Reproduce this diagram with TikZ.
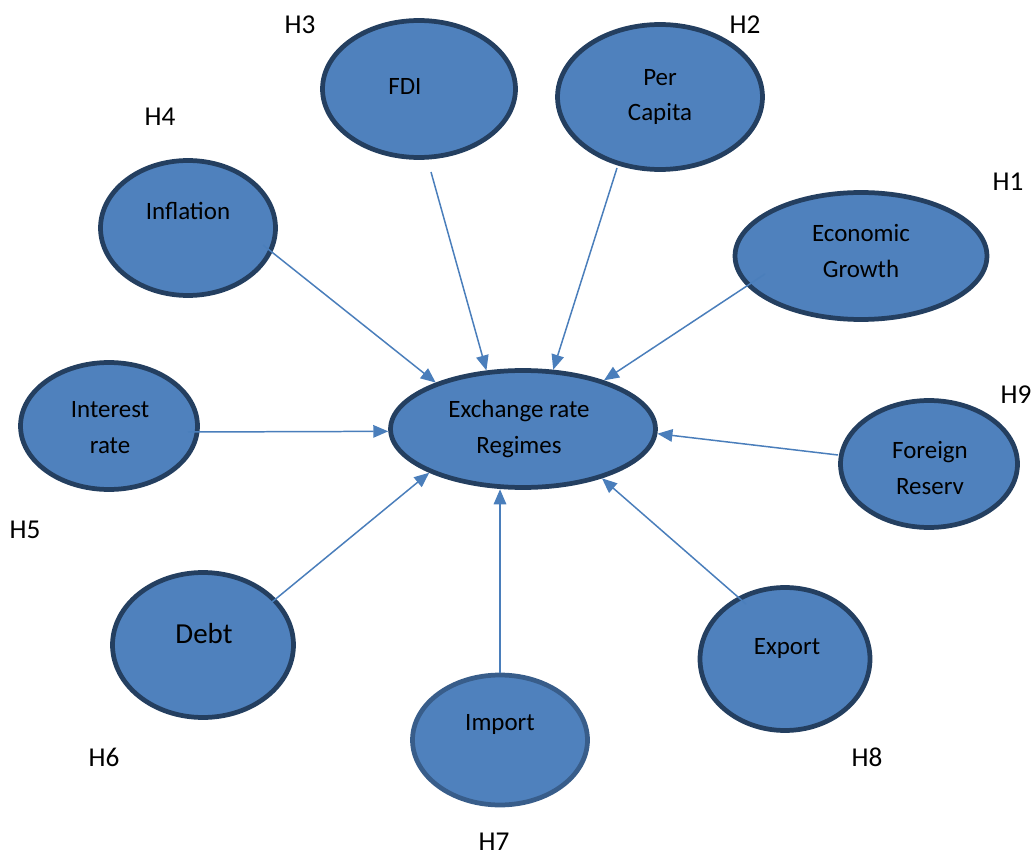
\documentclass[tikz,border=0pt]{standalone}
\usepackage{fontspec}
\setmainfont{Carlito}
\usetikzlibrary{shapes.geometric, arrows.meta}

\begin{document}
\begin{tikzpicture}[x=0.02cm, y=-0.02cm,
    bubble/.style={ellipse, draw=bubbleline, fill=bubblefill, line width=2.7pt, inner sep=0pt},
    lbl/.style={align=center, font=\fontsize{14.2}{20.4}\selectfont},
    hyp/.style={font=\fontsize{15.5}{18}\selectfont},
    link/.style={draw=linkblue, line width=0.85pt, -{Triangle[length=0.3cm, width=0.25cm]}}]
        \definecolor{bubblefill}{RGB}{79, 129, 189}
        \definecolor{bubbleline}{RGB}{36, 63, 96}
        \definecolor{linkblue}{RGB}{74, 126, 187}
        \useasboundingbox (0,0) rectangle (1035,858);

        % ellipses
        \node[bubble, minimum width=5.3cm, minimum height=2.34cm] (ex) at (523,429) {};
        \node[bubble, minimum width=3.86cm, minimum height=2.74cm] (fdi) at (419,89) {};
        \node[bubble, minimum width=4.1cm, minimum height=2.9cm] (pc) at (660,97) {};
        \node[bubble, minimum width=3.5cm, minimum height=2.7cm] (infl) at (188,228) {};
        \node[bubble, minimum width=5.04cm, minimum height=2.54cm] (eg) at (861,256) {};
        \node[bubble, minimum width=3.54cm, minimum height=2.54cm] (ir) at (109,426) {};
        \node[bubble, minimum width=3.54cm, minimum height=2.54cm] (fr) at (929,464) {};
        \node[bubble, minimum width=3.62cm, minimum height=2.9cm] (debt) at (203,645) {};
        \node[bubble, draw={rgb,255:red,56;green,93;blue,138}, minimum width=3.5cm, minimum height=2.6cm] (imp) at (500,740) {};
        \node[bubble, minimum width=3.4cm, minimum height=2.86cm] (exp) at (785,659) {};

        % texts
        \node[lbl] (ex-t) at (519,429) {Exchange rate\\Regimes};
        \node[lbl] (fdi-t) at (405,86) {FDI};
        \node[lbl] (pc-t) at (660,97) {Per\\Capita};
        \node[lbl] (infl-t) at (188,211) {Inflation};
        \node[lbl] (eg-t) at (861,251) {Economic\\Growth};
        \node[lbl] (ir-t) at (110,428) {Interest\\rate};
        \node[lbl] (fr-t) at (930,468) {Foreign\\Reserv};
        \node[lbl, font=\fontsize{16.5}{20}\selectfont] (debt-t) at (204,634) {Debt};
        \node[lbl] (imp-t) at (500,725) {Import};
        \node[lbl] (exp-t) at (787,649) {Export};

        % hypotheses
        \node[hyp] (h1) at (1008,182) {H1};
        \node[hyp] (h2) at (745,25) {H2};
        \node[hyp] (h3) at (300,25) {H3};
        \node[hyp] (h4) at (160,117) {H4};
        \node[hyp] (h5) at (25,530) {H5};
        \node[hyp] (h6) at (104,757) {H6};
        \node[hyp] (h7) at (494,842) {H7};
        \node[hyp] (h8) at (867,757) {H8};
        \node[hyp] (h9) at (1016,395) {H9};

        % arrow starts
        \coordinate (infl-s) at (263,245);
        \coordinate (fdi-s) at (431,172);
        \coordinate (pc-s) at (617,168);
        \coordinate (eg-s) at (765,274);
        \coordinate (ir-s) at (188,432);
        \coordinate (fr-s) at (838,455);
        \coordinate (debt-s) at (272,602);
        \coordinate (imp-s) at (500,673);
        \coordinate (exp-s) at (746,604);

        \draw[link] (infl-s) -- (ex.152.7);
        \draw[link] (fdi-s) -- (ex.122.9);
        \draw[link] (pc-s) -- (ex.63.1);
        \draw[link] (eg-s) -- (ex.31.9);
        \draw[link] (ir-s) -- (ex.181);
        \draw[link] (fr-s) -- (ex.358);
        \draw[link] (debt-s) -- (ex.205.4);
        \draw[link] (imp-s) -- (imp-s |- ex.253.2);
        \draw[link] (exp-s) -- (ex.328.4);
    \end{tikzpicture}
\end{document}
